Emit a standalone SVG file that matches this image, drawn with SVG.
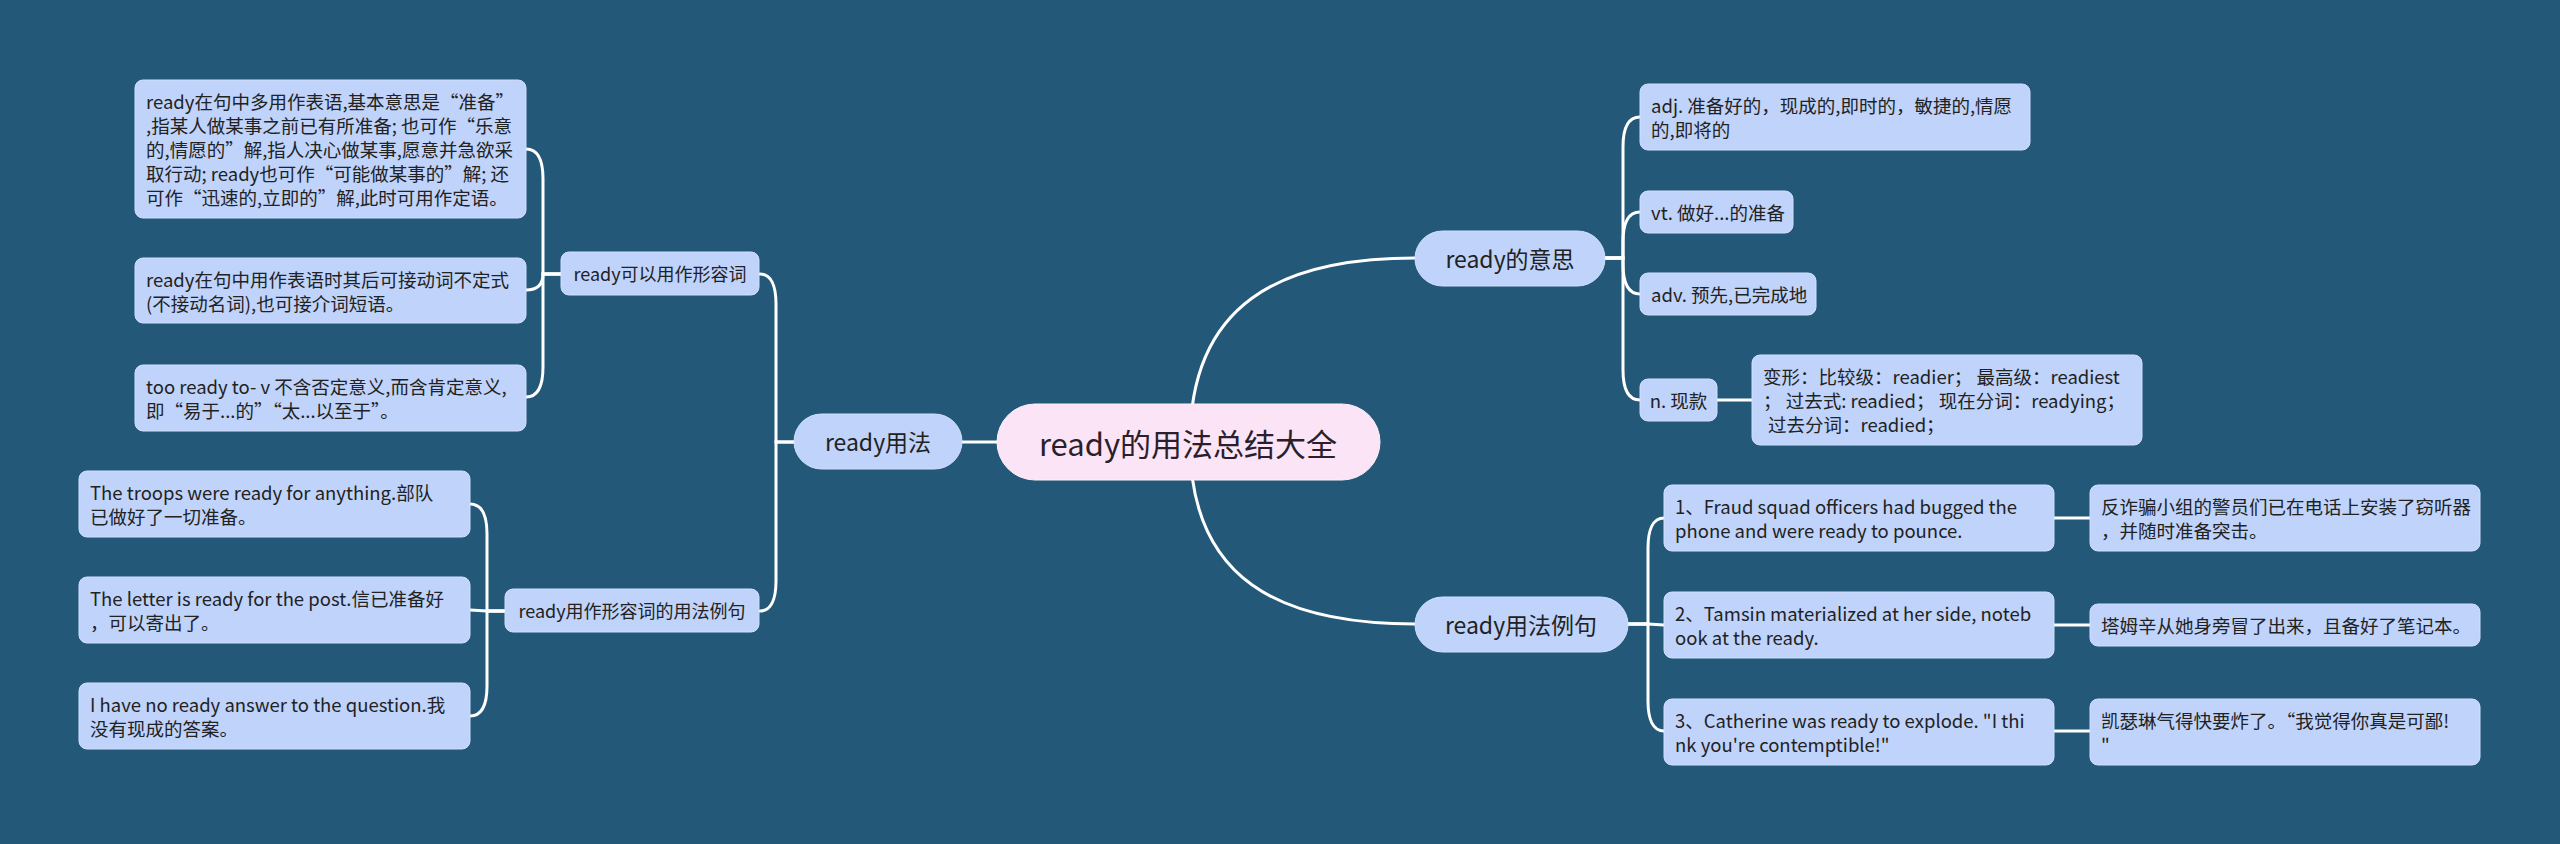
<svg xmlns="http://www.w3.org/2000/svg" width="2560" height="844" viewBox="0 0 2560 844">
<style>
text{font-family:"Noto Sans CJK SC","Noto Sans",sans-serif;fill:#222;dominant-baseline:central;font-size:18.5px}
.c{text-anchor:middle}
.lnk{fill:none;stroke:#fff;stroke-width:3;stroke-linecap:round}
.box{fill:#BFD3FB;stroke:#D2DFFD;stroke-width:1}
.root{fill:#FCE4F7;stroke:#FFF0FB;stroke-width:1}
.m{font-size:23px}
.s{font-size:18px}
.r{font-size:31px;fill:#2A1F2A}
</style>
<rect width="2560" height="844" fill="#235879"/>
<g id="connectors" class="lnk">
<path d="M1190 442 C1190 304 1280 258 1415 258"/>
<path d="M1190 442 C1190 580 1280 624 1415 624"/>
<path d="M962 442 H998"/>
<path d="M1605 258 H1623 V147 C1623 129 1628 117 1640 117"/>
<path d="M1605 258 H1623 V242 C1623 224 1628 212 1640 212"/>
<path d="M1605 258 H1623 V264 C1623 282 1628 294 1640 294"/>
<path d="M1605 258 H1623 V370 C1623 388 1628 400 1640 400"/>
<path d="M1717 400 H1752"/>
<path d="M1628 624 H1648 V548 C1648 530 1653 518 1664 518"/>
<path d="M1628 624 H1648 L1664 625"/>
<path d="M1628 624 H1648 V701 C1648 719 1653 731 1664 731"/>
<path d="M2054 518 H2090"/>
<path d="M2054 625 H2090"/>
<path d="M2054 731 H2090"/>
<path d="M794 442 H776 V304 C776 286 771 274 760 274"/>
<path d="M794 442 H776 V581 C776 599 771 611 760 611"/>
<path d="M561 274 H543 V179 C543 161 538 149 526 149"/>
<path d="M561 274 H543 C543 284 538 290 526 290"/>
<path d="M561 274 H543 V367 C543 385 538 397 526 397"/>
<path d="M505 611 H487 V534 C487 516 482 504 470 504"/>
<path d="M505 611 H487 L470 610"/>
<path d="M505 611 H487 V686 C487 704 482 716 470 716"/>
</g>
<g id="root">
<rect class="root" x="997" y="404" width="383" height="76" rx="38"/>
<text class="c r" x="1188" y="442">ready的用法总结大全</text>
</g>
<g id="n-meaning">
<rect class="box" x="1415" y="231" width="190" height="55" rx="27.5"/>
<text class="c m" x="1510" y="258">ready的意思</text>
</g>
<g id="n-examples">
<rect class="box" x="1415" y="597" width="213" height="55" rx="27.5"/>
<text class="c m" x="1521" y="624">ready用法例句</text>
</g>
<g id="n-usage">
<rect class="box" x="794" y="414" width="168" height="55" rx="27.5"/>
<text class="c m" x="878" y="441">ready用法</text>
</g>
<g id="n-adj">
<rect class="box" x="561" y="252" width="198" height="43" rx="8"/>
<text class="c s" x="660" y="273">ready可以用作形容词</text>
</g>
<g id="n-adjex">
<rect class="box" x="505" y="589" width="254" height="43" rx="8"/>
<text class="c s" x="632" y="610">ready用作形容词的用法例句</text>
</g>
<g id="leaf-a1">
<rect class="box" x="135" y="80" width="391" height="138" rx="8"/>
<text x="146" y="101">ready在句中多用作表语,基本意思是“准备”</text>
<text x="146" y="125">,指某人做某事之前已有所准备; 也可作“乐意</text>
<text x="146" y="149">的,情愿的”解,指人决心做某事,愿意并急欲采</text>
<text x="146" y="173">取行动; ready也可作“可能做某事的”解; 还</text>
<text x="146" y="197">可作“迅速的,立即的”解,此时可用作定语。</text>
</g>
<g id="leaf-a2">
<rect class="box" x="135" y="258" width="391" height="65" rx="8"/>
<text x="146" y="278.5">ready在句中用作表语时其后可接动词不定式</text>
<text x="146" y="302.5">(不接动名词),也可接介词短语。</text>
</g>
<g id="leaf-a3">
<rect class="box" x="135" y="365" width="391" height="66" rx="8"/>
<text x="146" y="386">too ready to- v 不含否定意义,而含肯定意义,</text>
<text x="146" y="410">即“易于...的”“太...以至于”。</text>
</g>
<g id="leaf-b1">
<rect class="box" x="79" y="471" width="391" height="66" rx="8"/>
<text x="90" y="492">The troops were ready for anything.部队</text>
<text x="90" y="516">已做好了一切准备。</text>
</g>
<g id="leaf-b2">
<rect class="box" x="79" y="577" width="391" height="66" rx="8"/>
<text x="90" y="598">The letter is ready for the post.信已准备好</text>
<text x="90" y="622">，可以寄出了。</text>
</g>
<g id="leaf-b3">
<rect class="box" x="79" y="683" width="391" height="66" rx="8"/>
<text x="90" y="704">I have no ready answer to the question.我</text>
<text x="90" y="728">没有现成的答案。</text>
</g>
<g id="leaf-adj">
<rect class="box" x="1640" y="84" width="390" height="66" rx="8"/>
<text x="1651" y="105">adj. 准备好的，现成的,即时的，敏捷的,情愿</text>
<text x="1651" y="129">的,即将的</text>
</g>
<g id="leaf-vt">
<rect class="box" x="1640" y="191" width="153" height="42" rx="8"/>
<text x="1651" y="212">vt. 做好...的准备</text>
</g>
<g id="leaf-adv">
<rect class="box" x="1640" y="273" width="176" height="42" rx="8"/>
<text x="1651" y="294">adv. 预先,已完成地</text>
</g>
<g id="leaf-n">
<rect class="box" x="1640" y="379" width="77" height="42" rx="8"/>
<text class="c" x="1678.5" y="400">n. 现款</text>
</g>
<g id="leaf-forms">
<rect class="box" x="1752" y="355" width="390" height="90" rx="8"/>
<text x="1763" y="376">变形：比较级：readier；  最高级：readiest</text>
<text x="1763" y="400">；  过去式: readied；  现在分词：readying；</text>
<text x="1768" y="424">过去分词：readied；</text>
</g>
<g id="ex1">
<rect class="box" x="1664" y="485" width="390" height="66" rx="8"/>
<text x="1675" y="506">1、Fraud squad officers had bugged the</text>
<text x="1675" y="530">phone and were ready to pounce.</text>
</g>
<g id="tr1">
<rect class="box" x="2090" y="485" width="390" height="66" rx="8"/>
<text x="2101" y="506">反诈骗小组的警员们已在电话上安装了窃听器</text>
<text x="2101" y="530">，并随时准备突击。</text>
</g>
<g id="ex2">
<rect class="box" x="1664" y="592" width="390" height="66" rx="8"/>
<text x="1675" y="613">2、Tamsin materialized at her side, noteb</text>
<text x="1675" y="637">ook at the ready.</text>
</g>
<g id="tr2">
<rect class="box" x="2090" y="604" width="390" height="42" rx="8"/>
<text x="2101" y="625">塔姆辛从她身旁冒了出来，且备好了笔记本。</text>
</g>
<g id="ex3">
<rect class="box" x="1664" y="699" width="390" height="66" rx="8"/>
<text x="1675" y="720">3、Catherine was ready to explode. "I thi</text>
<text x="1675" y="744">nk you're contemptible!"</text>
</g>
<g id="tr3">
<rect class="box" x="2090" y="699" width="390" height="66" rx="8"/>
<text x="2101" y="720">凯瑟琳气得快要炸了。“我觉得你真是可鄙!</text>
<text x="2101" y="744">"</text>
</g>
</svg>
